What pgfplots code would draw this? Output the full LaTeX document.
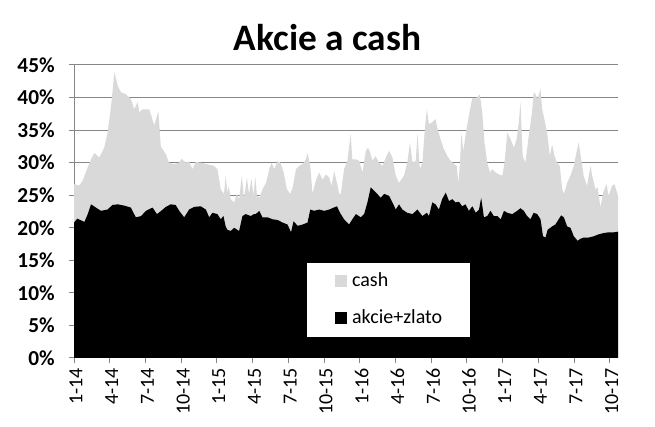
\documentclass[border=0pt]{standalone}
\usepackage{pgfplots}
\pgfplotsset{compat=1.18}
\usepackage{fontspec}
\setmainfont{Carlito}

\definecolor{cashgray}{RGB}{217,217,217}
\definecolor{gridgray}{RGB}{134,134,134}

% weeks since 1-14, share in %
\pgfplotstableread{
w v
0 26.7
1.9 26.5
3.1 27.2
5 29.3
6.2 30.5
7.4 31.5
9.2 30.8
11 32.3
12.2 34.6
13.5 38.7
14.7 43.9
15.9 41.8
17.1 40.8
18.9 40.5
20.7 39.8
21.9 38.2
23.2 39.3
23.8 37.7
24.9 38.2
27.4 38.2
29.2 35.7
30.7 37.9
31.6 32.5
33.4 31.3
34.6 30.0
36.4 29.8
38.3 30.0
39.1 30.6
40.7 30.0
41.9 30.2
43.1 29.0
44.3 30.1
46.1 30.0
48 29.8
51 29.5
52.2 29.0
53.4 25.9
54.6 25.2
55.2 28.0
55.8 25.4
56.4 26.4
57 24.4
58.3 23.9
59.2 25.2
60.1 24.4
61.1 28.0
61.9 24.4
62.9 27.7
63.7 25.2
64.6 27.5
65.3 24.9
66.0 27.8
66.6 24.9
67.4 24.6
68.6 25.9
69.9 26.9
71.1 29.0
71.9 30.0
72.9 29.0
74.1 30.3
75.1 30.0
76.3 28.5
77.5 25.9
78.7 25.2
79.6 26.2
80.8 29.0
82 29.5
83.2 29.8
84.4 30.5
85 31.5
86 29.5
86.8 25.2
88 27.2
89.2 28.5
90.5 27.4
91.7 28.2
92.9 27.7
93.7 26.4
94.7 28.7
95.7 26.9
96.5 25.2
97.1 25.2
98.3 29.0
99.5 30.3
100.7 34.4
101.3 30.5
102.6 30.5
103.8 30.3
105 28.5
106.2 31.8
107 32.3
107.8 31.6
108.6 30.3
109.8 31.0
111 30.0
112.3 29.5
113.5 30.8
114.7 31.8
115.9 30.8
117.1 28.0
118.3 26.9
120.1 28.0
121.3 30.0
122.3 33.1
123.2 30.0
124.4 30.3
125 34.4
125.9 29.0
126.8 30.0
127.6 34.6
128.4 38.2
129.2 35.9
130.4 36.2
131.6 36.7
132.2 35.4
133.4 33.6
134.6 32.1
135.9 31.0
137.1 30.3
138.3 29.8
139.3 29.5
139.9 26.9
140.5 30.0
141 34.6
141.7 31.8
142.5 34.1
143.7 37.2
145 40.0
146.2 39.8
147.7 40.5
148.6 37.7
149.4 33.1
150.4 30.0
151.4 28.5
152.2 29.0
153.4 28.5
154.6 28.2
155.9 28.0
156.7 30.0
157.7 34.6
158.9 33.6
160.1 32.3
161.1 33.6
161.9 36.2
162.5 39.3
163.3 31.0
164.3 30.0
165.5 34.1
166.7 37.7
167.3 40.8
168 40.5
168.6 39.8
169.2 40.5
169.8 41.3
170.4 38.2
171.2 36.7
172.2 34.6
173.2 31.0
174 32.8
174.9 31.0
175.8 30.0
176.8 29.5
177.7 25.9
178.3 25.2
179.5 26.9
180.7 28.0
181.9 29.5
182.9 31.6
183.7 33.1
184.6 30.5
185.5 28.0
186.7 26.4
188 29.5
188.6 28.0
189.8 25.9
190.6 26.2
191.6 23.1
192.6 25.4
193.8 26.7
194.6 24.9
195.8 26.4
196.7 26.7
198 24.9
}\cashdata

\pgfplotstableread{
w v
0 20.8
1.2 21.4
3.8 20.9
5 22.1
6.2 23.6
8 23.1
9.8 22.6
12.2 22.8
14 23.5
15.9 23.6
18.3 23.4
20.7 23.1
22.5 21.6
24.4 21.8
26.2 22.6
28.6 23.1
30.2 22.1
32.3 22.8
33.4 23.2
35.2 23.6
37 23.5
38.3 22.6
40.1 21.6
41.9 22.8
43.7 23.2
46.1 23.3
48 22.8
49.2 21.6
50.4 22.3
52.2 22.1
53.4 21.3
54.4 21.8
55.2 20.2
55.8 19.7
57 19.5
58.3 20.0
60.1 19.5
61.3 21.8
62.5 22.1
64.3 21.8
65.5 22.1
66.2 22.1
67.4 22.6
68.6 21.6
70.5 21.6
72.3 21.3
74.1 21.2
75.9 20.8
77.7 20.5
79 19.3
79.9 21.0
81.4 20.3
83.2 20.5
85 20.8
86 22.8
87.4 22.6
89.2 22.8
91.1 22.6
92.9 22.8
94.5 23.1
95.7 23.3
96.5 22.6
97.1 22.1
98.3 21.3
100.1 20.5
101.3 21.3
102.6 22.1
104.4 21.6
105.6 22.1
106.8 23.9
108 26.2
109.2 25.7
110.4 25.2
111.6 24.6
112.9 25.2
114.7 24.9
115.9 23.9
117.1 22.8
118.3 23.6
119.5 22.8
121.3 22.3
123.2 22.1
125 22.8
126.8 21.8
128.4 22.3
129.2 21.8
130.4 23.9
131.6 23.6
132.8 22.8
134 24.4
135.3 25.4
136.5 24.1
137.7 24.4
138.9 23.9
140.1 24.0
141.3 23.3
142.5 23.6
143.7 22.6
145 23.3
146.2 22.3
147.4 22.8
148.2 24.6
149.2 21.6
150.4 21.8
151.6 22.6
152.8 21.8
154.1 21.8
155.3 21.3
156.5 22.6
157.7 22.3
159.5 22.1
161.3 22.6
162.5 23.0
163.7 22.6
164.9 21.8
166.1 21.3
167.3 22.3
168.6 22.1
169.8 21.3
170.7 18.7
171.6 18.5
172.4 19.7
174 20.2
175.2 20.5
176.4 21.3
177.3 21.9
178.3 21.6
179.5 20.2
180.7 20.0
181.9 18.7
183.3 18.0
184.3 18.3
185.5 18.5
187.3 18.5
189.2 18.7
191 19.0
192.9 19.2
194.6 19.3
196.5 19.3
198 19.4
}\akciedata

\begin{document}
\begin{tikzpicture}
\begin{axis}[
    at={(0,0)}, anchor=south west,
    scale only axis,
    width=408pt, height=219.75pt,
    xmin=0, xmax=198,
    ymin=0, ymax=45,
    axis x line*=bottom,
    axis y line*=left,
    axis line style={gridgray, line width=0.75pt},
    tick style={gridgray, line width=0.75pt},
    tick align=outside,
    major tick length=4pt,
    ymajorgrids,
    grid style={gridgray, line width=0.75pt},
    ytick={0,5,...,45},
    yticklabels={0\%,5\%,10\%,15\%,20\%,25\%,30\%,35\%,40\%,45\%},
    yticklabel style={font=\bfseries\fontsize{16}{16}\selectfont, xshift=-7pt},
    xtick={0,13,...,195},
    xticklabels={1-14,4-14,7-14,10-14,1-15,4-15,7-15,10-15,1-16,4-16,7-16,10-16,1-17,4-17,7-17,10-17},
    xticklabel style={font=\fontsize{15}{15}\selectfont, rotate=90, anchor=east, yshift=-1.5pt},
    legend cell align=left,
    legend style={
        at={(0.428,0.072)}, anchor=south west,
        draw=none, fill=white,
        inner xsep=21pt, inner ysep=6.9pt,
        row sep=13.75pt,
        font=\fontsize{15}{15}\selectfont,
        nodes={inner sep=0pt, text height=11pt, text depth=3pt, anchor=west},
    },
    /tikz/every odd column/.append style={column sep=3.75pt},
    legend image code/.code={\fill[#1] (0pt,-4.5pt) rectangle (9pt,4.5pt);},
]
\addplot[draw=none, fill=cashgray] table[x=w, y=v] {\cashdata} \closedcycle;
\addlegendentry{cash}
\addplot[draw=none, fill=black] table[x=w, y=v] {\akciedata} \closedcycle;
\addlegendentry{akcie+zlato}
\end{axis}
\node[anchor=base, font=\bfseries\fontsize{28}{28}\selectfont, inner sep=0pt] at (190.1pt,230.25pt) {Akcie a cash};
\pgfresetboundingbox
\path (-55.5pt,-51.75pt) rectangle (435.75pt,268.5pt);
\end{tikzpicture}
\end{document}
